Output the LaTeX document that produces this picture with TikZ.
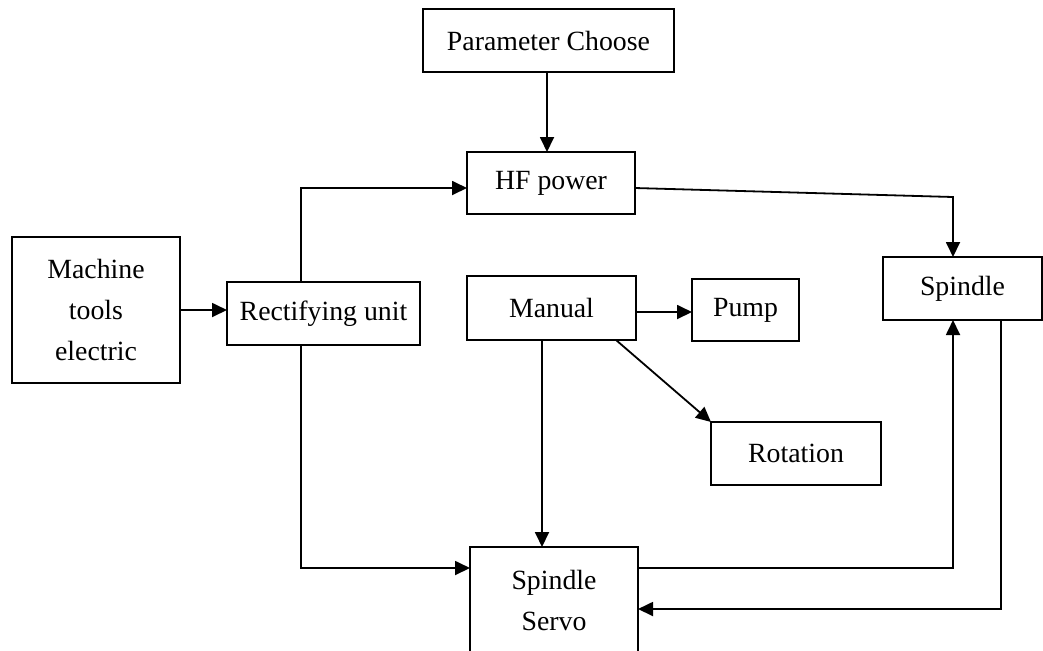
\documentclass[tikz,border=0pt]{standalone}
\usepackage{fontspec}
\setmainfont{Liberation Serif}
\usetikzlibrary{arrows.meta}

\begin{document}
\begin{tikzpicture}[x=0.5pt, y=-0.5pt,
        blockbox/.style = {draw, line width=0.9pt, inner sep=0pt, outer sep=0pt, align=center,
            font=\fontsize{13.9}{20.5}\selectfont},
        arr/.style = {line width=0.9pt, -{Triangle[length=7.5pt, width=7pt]}}]
        \useasboundingbox (0, 0) rectangle (1043, 650);

        \node[blockbox, minimum width=125.5pt, minimum height=31.5pt] (param) at (548.5, 40.5) {Parameter Choose};
        \node[blockbox, minimum width=84pt, minimum height=31pt] (hf) at (551, 183) {HF power};
        \node[blockbox, minimum width=84pt, minimum height=73pt] (machine) at (96, 310) {Machine\\tools\\electric};
        \node[blockbox, minimum width=96.5pt, minimum height=31.5pt] (rect) at (323.5, 313.5) {Rectifying unit};
        \node[blockbox, minimum width=84.5pt, minimum height=32pt] (manual) at (551.5, 308) {Manual};
        \node[blockbox, minimum width=53.5pt, minimum height=31pt] (pump) at (745.5, 310) {Pump};
        \node[blockbox, minimum width=85pt, minimum height=31.5pt] (rotation) at (796, 453.5) {Rotation};
        \node[blockbox, minimum width=79.5pt, minimum height=31.5pt] (spindle) at (962.5, 288.5) {Spindle};
        \node[blockbox, minimum width=84pt, minimum height=53pt] (servo) at (554, 600) {Spindle\\Servo};

        \coordinate (bend) at (953, 197);

        \draw[arr] ([xshift=-0.75pt]param.south) -- ([xshift=-0.75pt]param.south |- hf.north);
        \draw[arr] (machine.east) -- (machine.east -| rect.west);
        \draw[arr] ([xshift=-11.25pt]rect.north) |- ([yshift=-2.5pt]hf.west);
        \draw[arr] ([xshift=-11.25pt]rect.south) |- ([yshift=16pt]servo.west);
        \draw[arr] ([yshift=-2.5pt]hf.east) -- (bend) -- (bend |- spindle.north);
        \draw[arr] ([yshift=-2pt]manual.east) -- ([yshift=-2pt]manual.east -| pump.west);
        \draw[arr] ([xshift=32.25pt]manual.south) -- (rotation.north west);
        \draw[arr] ([xshift=-4.75pt]manual.south) -- ([xshift=-4.75pt]manual.south |- servo.north);
        \draw[arr] ([yshift=16pt]servo.east) -| ([xshift=-4.75pt]spindle.south);
        \draw[arr] ([xshift=19.25pt]spindle.south) |- ([yshift=-4.5pt]servo.east);

    \end{tikzpicture}
\end{document}
